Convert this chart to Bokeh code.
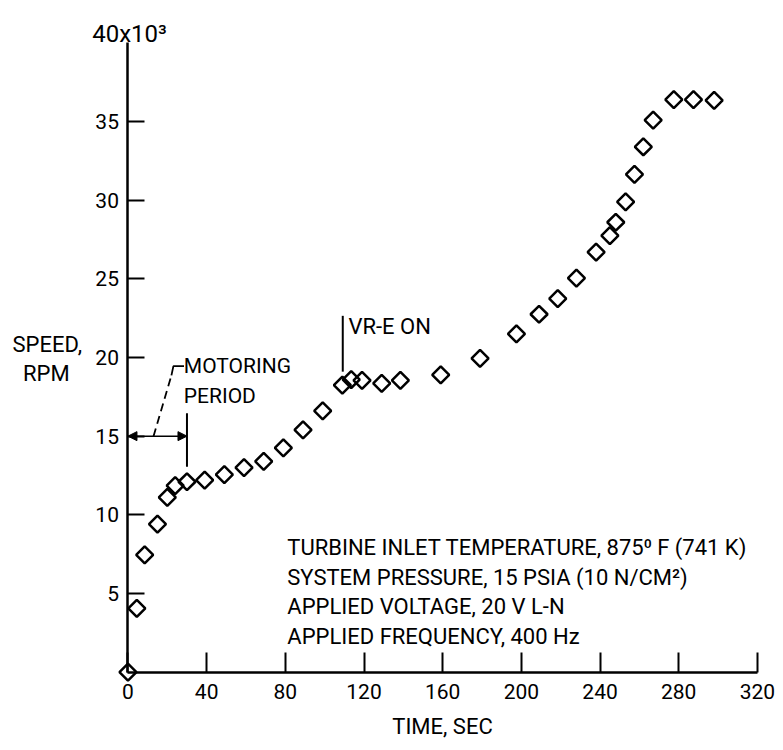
import numpy as np
from bokeh.plotting import figure
from bokeh.models import Range1d, Label, Arrow, NormalHead, FixedTicker
from bokeh.embed import file_html
from bokeh.resources import INLINE

# ---- data (speed in thousands of rpm) ----
time_sec = [0, 4.5, 8.5, 15, 20, 24, 30, 39, 49, 59, 69, 79, 89, 99, 109, 113.5,
            119, 129, 138.5, 159, 179, 197.5, 209, 218.5, 228, 238, 245, 248, 253,
            257.5, 262, 267, 277.5, 287.5, 298]
speed_krpm = [0, 4.05, 7.45, 9.4, 11.1, 11.85, 12.1, 12.2, 12.55, 13.0, 13.4, 14.25,
              15.4, 16.6, 18.25, 18.6, 18.55, 18.35, 18.55, 18.9, 19.95, 21.5, 22.75,
              23.75, 25.05, 26.7, 27.75, 28.6, 29.9, 31.65, 33.4, 35.1, 36.4, 36.4, 36.35]

x_ticks = [0, 40, 80, 120, 160, 200, 240, 280, 320]
y_ticks = [5, 10, 15, 20, 25, 30, 35]
y_top_label = "40x10\u00b3"

notes = ["TURBINE INLET TEMPERATURE, 875\u2070 F (741 K)",
         "SYSTEM PRESSURE, 15 PSIA (10 N/CM\u00b2)",
         "APPLIED VOLTAGE, 20 V L-N",
         "APPLIED FREQUENCY, 400 Hz"]
notes_x = 81
notes_y = [7.90, 5.99, 4.15, 2.28]

motoring_end = 30          # s
motoring_level = 15        # krpm
motoring_bar = [13.05, 16.45]
vre_on_time = 109.2
vre_bar = [19.1, 22.65]

FONT = "Roboto"

p = figure(width=775, height=742, output_backend="svg", toolbar_location=None,
           x_range=Range1d(-64.8, 329.2), y_range=Range1d(-4.48, 42.7),
           min_border_left=0, min_border_right=0, min_border_top=0, min_border_bottom=0)
p.outline_line_color = None
p.grid.visible = False
p.background_fill_color = "white"

# axes
for ax in (p.xaxis[0], p.yaxis[0]):
    ax.fixed_location = 0
    ax.axis_line_width = 2.5
    ax.axis_line_color = "black"
    ax.major_tick_line_width = 2
    ax.major_tick_line_color = "black"
    ax.major_tick_out = 0
    ax.minor_tick_line_color = None
    ax.major_label_text_font = FONT
    ax.major_label_text_color = "black"
    ax.axis_label_text_font = FONT
    ax.axis_label_text_font_style = "normal"
    ax.axis_label_text_color = "black"

xa = p.xaxis[0]
xa.bounds = (0, 320)
xa.ticker = FixedTicker(ticks=x_ticks)
xa.major_tick_in = 20
xa.major_label_text_font_size = "21px"
xa.major_label_standoff = 12
xa.axis_label = "TIME, SEC"
xa.axis_label_text_font_size = "22px"
xa.axis_label_standoff = 11

ya = p.yaxis[0]
ya.bounds = (0, 40)
ya.ticker = FixedTicker(ticks=y_ticks)
ya.major_tick_in = 17
ya.major_label_text_font_size = "21px"
ya.major_label_standoff = 9

def note(x, y, text, size, align="left"):
    p.add_layout(Label(x=x, y=y, text=text, text_font=FONT, text_font_size=size,
                       text_align=align, text_baseline="middle", text_color="black"))

note(0.8, 40.6, y_top_label, "24px", "center")
note(-41.0, 20.83, "SPEED,", "22px", "center")
note(-41.5, 18.98, "RPM", "22px", "center")

# data
p.scatter(time_sec, speed_krpm, marker="square", angle=np.pi / 4, size=12,
          fill_color=None, line_color="black", line_width=2.5)

# motoring period annotation
p.add_layout(Arrow(x_start=0, y_start=motoring_level, x_end=motoring_end, y_end=motoring_level,
                   line_width=1.5, line_color="black",
                   start=NormalHead(size=9, fill_color="black", line_color="black"),
                   end=NormalHead(size=9, fill_color="black", line_color="black")))
p.segment(x0=[motoring_end, vre_on_time], y0=[motoring_bar[0], vre_bar[0]],
          x1=[motoring_end, vre_on_time], y1=[motoring_bar[1], vre_bar[1]],
          line_color="black", line_width=2)
p.line([13, 22.1], [15.0, 18.86], line_color="black", line_width=1.8, line_dash="8 5")
p.line([22.1, 23.1, 28.5], [18.86, 19.45, 19.45], line_color="black", line_width=1.8)
note(28.4, 19.49, "MOTORING", "21px")
note(28.4, 17.56, "PERIOD", "21px")
note(112.1, 21.94, "VR-E ON", "22px")

for t, yy in zip(notes, notes_y):
    note(notes_x, yy, t, "22px")

open("out.html", "w").write(file_html(p, INLINE))
